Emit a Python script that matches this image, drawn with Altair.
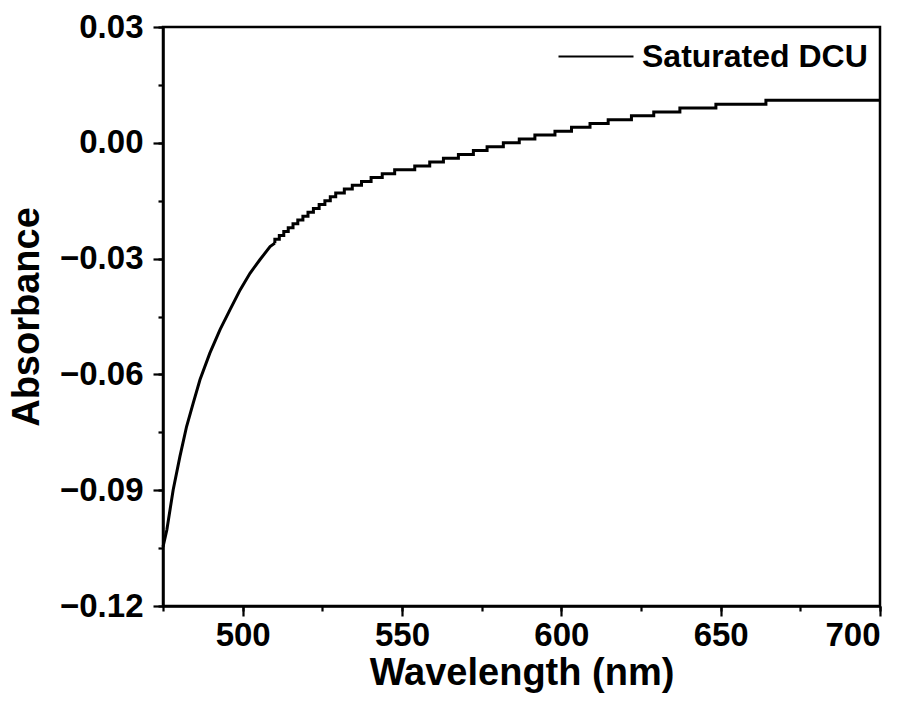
import altair as alt
import pandas as pd

series_name = "Saturated DCU"

# steep part of the curve
smooth_wl = [475.0, 476.2, 478.2, 480.3, 482.4, 484.5, 486.6, 489.7, 492.9,
             496.0, 499.2, 502.3, 505.4, 508.6, 510.1]
smooth_abs = [-0.1047, -0.1003, -0.0899, -0.0813, -0.0735, -0.0674, -0.0614,
              -0.0545, -0.0484, -0.0433, -0.0381, -0.0338, -0.0303, -0.0269,
              -0.0260]

# quantised (stepped) part: wavelength where each level starts, and its level
step_wl = [510.1, 510.1, 511.5, 512.9, 514.3, 515.8, 517.3, 518.9, 520.5, 522.2,
           524.0, 525.8, 527.5, 529.2, 531.9, 534.4, 537.3, 540.3, 543.8,
           547.7, 554.0, 558.7, 563.0, 567.7, 572.4, 576.7, 581.8, 586.8,
           591.7, 598.0, 603.2, 609.0, 614.7, 622.0, 629.0, 637.2, 648.5,
           664.2, 700.0]
step_abs = [-0.026, -0.025, -0.024, -0.023, -0.022, -0.021, -0.020, -0.019,
            -0.018, -0.017, -0.016, -0.015, -0.014, -0.013, -0.012, -0.011,
            -0.010, -0.009, -0.008, -0.007, -0.006, -0.005, -0.004, -0.003,
            -0.002, -0.001, 0.000, 0.001, 0.002, 0.003, 0.004, 0.005, 0.006,
            0.007, 0.008, 0.009, 0.010, 0.011, 0.011]

x_major = [500, 550, 600, 650, 700]
x_minor = [475, 500, 525, 550, 575, 600, 625, 650, 675, 700]
y_major = [-0.12, -0.09, -0.06, -0.03, 0.0, 0.03]
y_minor = [-0.12, -0.105, -0.09, -0.075, -0.06, -0.045, -0.03, -0.015, 0.0,
           0.015, 0.03]

df_smooth = pd.DataFrame({"wl": smooth_wl, "A": smooth_abs, "series": series_name})
df_step = pd.DataFrame({"wl": step_wl, "A": step_abs, "series": series_name})

FONT = "Liberation Sans"
xs = alt.Scale(domain=[475, 700], nice=False, zero=False)
ys = alt.Scale(domain=[-0.12, 0.03], nice=False, zero=False)

color = alt.Color(
    "series:N",
    scale=alt.Scale(range=["black"]),
    legend=alt.Legend(
        title=None, orient="none", legendX=394, legendY=-9.5, padding=0,
        symbolType="stroke", symbolSize=5625, symbolStrokeWidth=2.2,
        symbolStrokeColor="black",
        labelFont=FONT, labelFontSize=32, labelFontWeight="bold",
        labelColor="black", labelOffset=7, labelLimit=500,
    ),
)

common_axis = dict(grid=False, domainColor="black", domainWidth=2.5,
                   tickColor="black", tickWidth=2.2,
                   labelFont=FONT, labelFontSize=33, labelFontWeight="bold",
                   labelColor="black", titleFont=FONT, titleFontSize=38,
                   titleFontWeight="bold", titleColor="black")

major = alt.Chart(df_smooth).mark_line(strokeWidth=3, color="black").encode(
    x=alt.X("wl:Q", scale=xs,
            axis=alt.Axis(values=x_major, tickSize=10, labelPadding=3,
                          title="Wavelength (nm)", titlePadding=2,
                          orient="bottom", **common_axis)),
    y=alt.Y("A:Q", scale=ys,
            axis=alt.Axis(values=y_major, tickSize=10, labelPadding=10,
                          format=".2f", title="Absorbance", titlePadding=13,
                          orient="left", **common_axis)),
    color=color,
)

minor = alt.Chart(df_step).mark_line(strokeWidth=3, color="black",
                                     interpolate="step-after").encode(
    x=alt.X("wl:Q", scale=xs,
            axis=alt.Axis(values=x_minor, tickSize=5, labels=False,
                          domain=False, title=None, orient="bottom",
                          grid=False, tickColor="black", tickWidth=2.2)),
    y=alt.Y("A:Q", scale=ys,
            axis=alt.Axis(values=y_minor, tickSize=5, labels=False,
                          domain=False, title=None, orient="left",
                          grid=False, tickColor="black", tickWidth=2.2)),
    color=color,
)

chart = (
    alt.layer(major, minor)
    .resolve_axis(x="independent", y="independent")
    .properties(width=717, height=579, autosize="none",
                padding={"left": 163, "top": 27, "right": 37, "bottom": 98},
                background="white")
    .configure_view(stroke="black", strokeWidth=2.5)
)

chart.save("out.html", embed_options={"renderer": "svg", "actions": False})
